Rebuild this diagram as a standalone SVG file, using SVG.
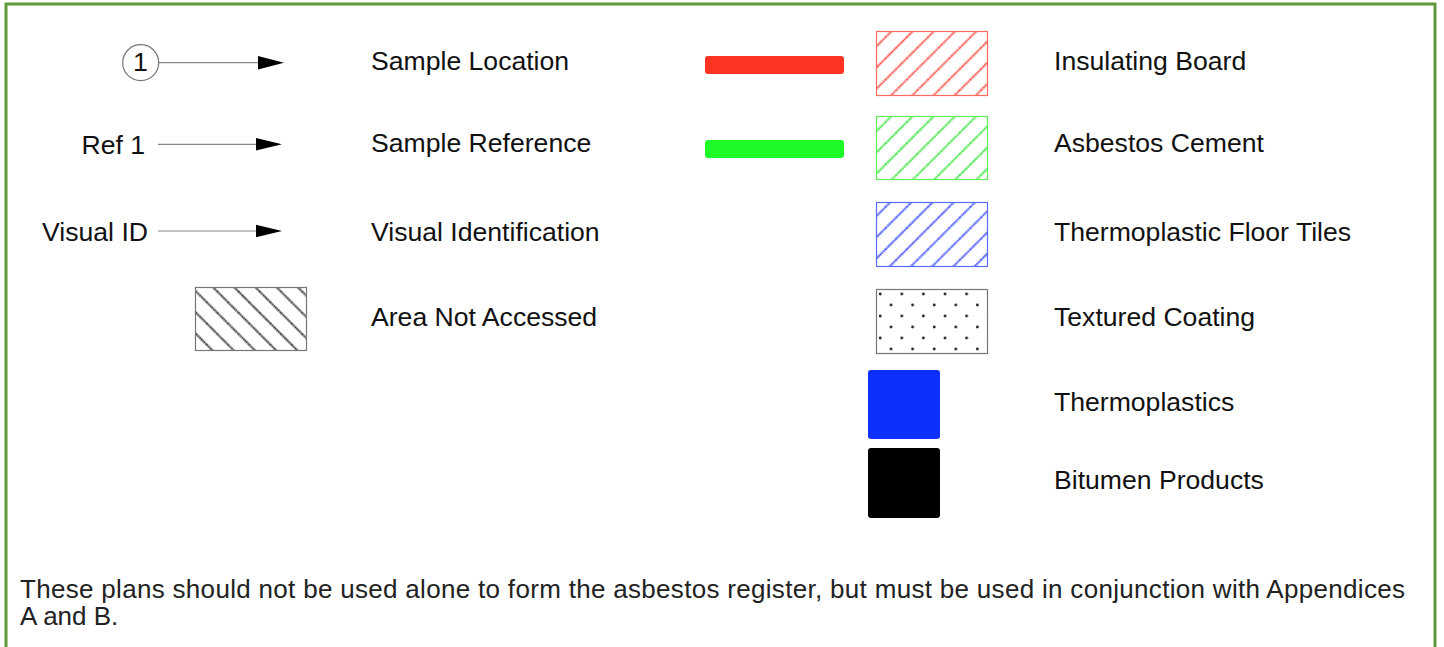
<svg xmlns="http://www.w3.org/2000/svg" width="1444" height="647" viewBox="0 0 1444 647">
  <style>
    .lbl { font-family: "Liberation Sans", Arial, sans-serif; font-size: 26.6px; fill: #111; }
    .note { font-family: "Liberation Sans", Arial, sans-serif; font-size: 26px; fill: #222; }
    .lead { stroke: #888; stroke-width: 1.2; fill: none; }
    .head { fill: #000; }
  </style>
  <defs>
    <!-- diagonal hatch fills for material swatches -->
    <pattern id="hatchRed" patternUnits="userSpaceOnUse" width="15" height="15" patternTransform="rotate(45)">
      <line x1="7.5" y1="0" x2="7.5" y2="15" stroke="#ff2a1e" stroke-width="1.8" stroke-dasharray="1.6 0.6"/>
    </pattern>
    <pattern id="hatchGreen" patternUnits="userSpaceOnUse" width="15" height="15" patternTransform="rotate(45)">
      <line x1="7.5" y1="0" x2="7.5" y2="15" stroke="#18e01e" stroke-width="1.8" stroke-dasharray="1.6 0.6"/>
    </pattern>
    <pattern id="hatchBlue" patternUnits="userSpaceOnUse" width="15" height="15" patternTransform="rotate(45)">
      <line x1="7.5" y1="0" x2="7.5" y2="15" stroke="#1a2eff" stroke-width="1.8" stroke-dasharray="1.6 0.6"/>
    </pattern>
    <pattern id="hatchBlack" patternUnits="userSpaceOnUse" width="15" height="15" patternTransform="rotate(-45)">
      <line x1="7.5" y1="0" x2="7.5" y2="15" stroke="#111" stroke-width="1.9" stroke-dasharray="1.6 0.6"/>
    </pattern>
    <pattern id="dots" patternUnits="userSpaceOnUse" x="876" y="289" width="21.6" height="22">
      <circle cx="4.2" cy="5" r="1.4" fill="#222"/>
      <circle cx="15" cy="16" r="1.4" fill="#222"/>
    </pattern>
  </defs>

  <!-- frame -->
  <rect x="6" y="4" width="1429" height="660" fill="#fff" stroke="#5e9a3a" stroke-width="3"/>

  <!-- leader symbols -->
  <g id="connectors">
    <line class="lead" x1="159" y1="62.7" x2="260" y2="62.7"/>
    <polygon class="head" points="258,56 284,62.7 258,69.4"/>
    <line class="lead" x1="158" y1="144.3" x2="258" y2="144.3"/>
    <polygon class="head" points="256,138 282,144.3 256,150.6"/>
    <line class="lead" x1="158" y1="231" x2="258" y2="231"/>
    <polygon class="head" points="256,224.7 282,231 256,237.3"/>
  </g>

  <g id="sample-location">
    <circle cx="140.7" cy="62.7" r="18" fill="#fff" stroke="#777" stroke-width="1.2"/>
    <text class="lbl" x="140.5" y="71" text-anchor="middle" font-size="23">1</text>
    <text class="lbl" x="371" y="70">Sample Location</text>
  </g>

  <g id="sample-reference">
    <text class="lbl" x="145" y="154" text-anchor="end">Ref 1</text>
    <text class="lbl" x="371" y="152">Sample Reference</text>
  </g>

  <g id="visual-identification">
    <text class="lbl" x="148" y="241" text-anchor="end">Visual ID</text>
    <text class="lbl" x="371" y="241">Visual Identification</text>
  </g>

  <g id="area-not-accessed">
    <rect x="195.5" y="287.5" width="111" height="63" fill="url(#hatchBlack)" stroke="#777" stroke-width="1.2"/>
    <text class="lbl" x="371" y="326">Area Not Accessed</text>
  </g>

  <g id="insulating-board">
    <rect x="705" y="56" width="139" height="18" rx="3" fill="#ff3322"/>
    <rect x="876.5" y="31.5" width="111" height="64" fill="url(#hatchRed)" stroke="#ff6b60" stroke-width="1.2"/>
    <text class="lbl" x="1054" y="70">Insulating Board</text>
  </g>

  <g id="asbestos-cement">
    <rect x="705" y="140" width="139" height="18" rx="3" fill="#1efa28"/>
    <rect x="876.5" y="116.5" width="111" height="63" fill="url(#hatchGreen)" stroke="#5cf05c" stroke-width="1.2"/>
    <text class="lbl" x="1054" y="152">Asbestos Cement</text>
  </g>

  <g id="thermoplastic-floor-tiles">
    <rect x="876.5" y="202.5" width="111" height="64" fill="url(#hatchBlue)" stroke="#5a6cff" stroke-width="1.2"/>
    <text class="lbl" x="1054" y="241">Thermoplastic Floor Tiles</text>
  </g>

  <g id="textured-coating">
    <rect x="876.5" y="289.5" width="111" height="64" fill="url(#dots)" stroke="#777" stroke-width="1.2"/>
    <text class="lbl" x="1054" y="326">Textured Coating</text>
  </g>

  <g id="thermoplastics">
    <rect x="868" y="370" width="72" height="69" rx="3" fill="#0f2fff"/>
    <text class="lbl" x="1054" y="411">Thermoplastics</text>
  </g>

  <g id="bitumen-products">
    <rect x="868" y="448" width="72" height="70" rx="3" fill="#000"/>
    <text class="lbl" x="1054" y="489">Bitumen Products</text>
  </g>

  <text class="note" x="20" y="598" textLength="1385" lengthAdjust="spacing">These plans should not be used alone to form the asbestos register, but must be used in conjunction with Appendices</text>
  <text class="note" x="20" y="625">A and B.</text>
</svg>
